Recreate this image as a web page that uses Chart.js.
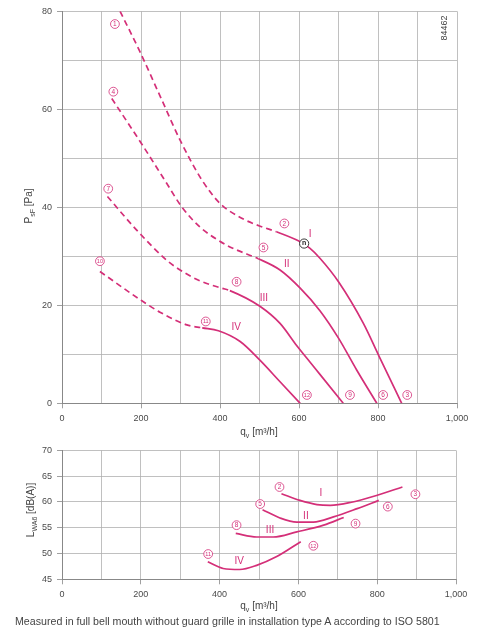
<!DOCTYPE html>
<html>
<head>
<meta charset="utf-8">
<script src="https://cdn.jsdelivr.net/npm/chart.js@4.4.0/dist/chart.umd.min.js"></script>
<style>
  body { margin: 0; background: #fff; width: 497px; height: 639px; overflow: hidden; }
  .box { position: absolute; left: 0; }
  #caption { position: absolute; left: 15px; top: 615px; font: 10.65px 'Liberation Sans', Arial, sans-serif; color: #444; white-space: nowrap; }
</style>
</head>
<body>
<div class="box" style="top:0"><canvas id="pressure" width="497" height="440"></canvas></div>
<div class="box" style="top:440px"><canvas id="noise" width="497" height="180"></canvas></div>
<div id="caption">Measured in full bell mouth without guard grille in installation type A according to ISO 5801</div>
<script>
// static pressure curves (q in m3/h, p in Pa), dashed up to dashEnd
const qI = [147, 197, 250, 299, 354, 400, 459, 500, 543, 602, 628, 653, 700, 763, 801, 860];
const pI = [80, 71.8, 62.4, 53.7, 45.6, 40.8, 37.6, 36.2, 35, 33, 31.6, 29.6, 24.8, 16.3, 9.9, 0];
const qII = [126, 206, 265, 303, 349, 416, 442, 497, 552, 603, 653, 700, 746, 797];
const pII = [62.2, 52.4, 44.9, 40.1, 36.0, 32.3, 31.3, 29.5, 27.2, 23.5, 18.9, 13.3, 6.8, 0];
const qIII = [115, 193, 265, 299, 349, 404, 425, 501, 552, 594, 619, 653, 712];
const pIII = [42.2, 35.0, 29.2, 27.2, 25.0, 23.5, 23.0, 19.8, 16.3, 11.8, 9.3, 5.9, 0];
const qIV = [96, 197, 248, 316, 355, 396, 451, 501, 552, 603];
const pIV = [26.9, 21.2, 18.6, 16.0, 15.4, 14.8, 12.6, 8.8, 4.4, 0];
const dashEnd = [543, 497, 425, 355];
const nominalPoint = [613, 32.6];

// sound power curves (q in m3/h, L in dB(A))
const lqI = [557, 604, 647, 681, 732, 800, 864];
const lI = [61.6, 60.3, 59.5, 59.35, 59.9, 61.3, 62.9];
const lqII = [509, 553, 596, 638, 689, 749, 804];
const lII = [58.5, 56.9, 56.1, 56.1, 57.1, 58.7, 60.3];
const lqIII = [441, 494, 536, 596, 664, 715];
const lIII = [53.9, 53.2, 53.2, 54.2, 55.5, 57.0];
const lqIV = [370, 409, 451, 494, 545, 606];
const lIV = [48.4, 47.1, 46.9, 47.7, 49.4, 52.3];

// curve markers [text, q, value]
const topCircles = [['1', 134, 77.4], ['4', 130, 63.6], ['7', 117, 43.8], ['10', 96, 29.0],
  ['2', 563, 36.7], ['5', 510, 31.8], ['8', 442, 24.8], ['11', 364, 16.7],
  ['12', 620, 1.7], ['9', 729, 1.7], ['6', 813, 1.7], ['3', 874, 1.7]];
const topRoman = [['I', 628, 34.5], ['II', 569, 28.4], ['III', 511, 21.4], ['IV', 441, 15.6]];
const bottomCircles = [['2', 552, 62.9], ['3', 897, 61.5], ['5', 503, 59.6], ['6', 827, 59.1],
  ['8', 443, 55.5], ['9', 745, 55.8], ['11', 371, 49.9], ['12', 638, 51.5]];
const bottomRoman = [['I', 657, 61.6], ['II', 619, 57.3], ['III', 528, 54.5], ['IV', 450, 48.5]];

const PINK = '#d42f78';
const GRID = '#b0b0b0';
const FONT = "'Liberation Sans', Arial, sans-serif";

Chart.defaults.font.family = FONT;
Chart.defaults.animation = false;

function pts(xs, ys) {
  return xs.map((x, i) => ({ x: x, y: ys[i] }));
}

function curve(xs, ys, split) {
  return {
    data: pts(xs, ys),
    borderColor: PINK,
    borderWidth: 1.7,
    pointRadius: 0,
    cubicInterpolationMode: 'monotone',
    segment: {
      borderDash: ctx => (split !== undefined && ctx.p1.parsed.x <= split) ? [6, 4] : undefined
    }
  };
}

function xAxis(height) {
  return {
    type: 'linear', min: 0, max: 1000,
    ticks: {
      stepSize: 100, autoSkip: false, maxRotation: 0, padding: 5, color: '#4a4a4a', font: { size: 9 },
      callback: v => v % 200 === 0 ? v.toLocaleString('en-US') : ''
    },
    grid: {
      color: GRID, lineWidth: 0.8, tickLength: 5,
      tickColor: c => (c.tick && c.tick.value % 200 === 0) ? '#888' : 'rgba(0,0,0,0)'
    },
    border: { color: '#888', width: 1 },
    afterFit: s => { s.height = height; }
  };
}

function yAxis(min, max, step, every) {
  return {
    min: min, max: max,
    ticks: {
      stepSize: step, autoSkip: false, padding: 5, color: '#4a4a4a', font: { size: 9 },
      callback: v => v % every === 0 ? v : ''
    },
    grid: {
      color: GRID, lineWidth: 0.8, tickLength: 5,
      tickColor: c => (c.tick && c.tick.value % every === 0) ? '#888' : 'rgba(0,0,0,0)'
    },
    border: { color: '#888', width: 1 },
    afterFit: s => { s.width = 62; }
  };
}

// text with subscripts: parts = [text, size, baseline shift]
function richText(ctx, parts, cx, cy, rot) {
  ctx.save();
  ctx.translate(cx, cy);
  ctx.rotate(rot);
  let w = 0;
  parts.forEach(p => { ctx.font = p[1] + 'px ' + FONT; w += ctx.measureText(p[0]).width; });
  let x = -w / 2;
  ctx.fillStyle = '#444';
  ctx.textBaseline = 'alphabetic';
  ctx.textAlign = 'left';
  parts.forEach(p => {
    ctx.font = p[1] + 'px ' + FONT;
    ctx.fillText(p[0], x, 3.5 + p[2]);
    x += ctx.measureText(p[0]).width;
  });
  ctx.restore();
}

const marks = {
  id: 'marks',
  afterDatasetsDraw(chart, args, opts) {
    const ctx = chart.ctx;
    const xs = chart.scales.x, ys = chart.scales.y;
    ctx.save();
    ctx.textAlign = 'center';
    ctx.textBaseline = 'middle';
    (opts.circles || []).forEach(([t, q, v]) => {
      const px = xs.getPixelForValue(q), py = ys.getPixelForValue(v);
      ctx.beginPath();
      ctx.arc(px, py, 4.4, 0, Math.PI * 2);
      ctx.fillStyle = '#fff';
      ctx.fill();
      ctx.strokeStyle = PINK;
      ctx.lineWidth = 0.8;
      ctx.stroke();
      ctx.fillStyle = PINK;
      ctx.font = (t.length > 1 ? 5.5 : 6.5) + 'px ' + FONT;
      ctx.fillText(t, px, py + 0.4);
    });
    (opts.roman || []).forEach(([t, q, v]) => {
      ctx.fillStyle = PINK;
      ctx.font = '10px ' + FONT;
      ctx.fillText(t, xs.getPixelForValue(q), ys.getPixelForValue(v));
    });
    if (opts.nominal) {
      const px = xs.getPixelForValue(opts.nominal[0]), py = ys.getPixelForValue(opts.nominal[1]);
      ctx.beginPath();
      ctx.arc(px, py, 4.6, 0, Math.PI * 2);
      ctx.fillStyle = '#fff';
      ctx.fill();
      ctx.strokeStyle = '#222';
      ctx.lineWidth = 0.9;
      ctx.stroke();
      ctx.fillStyle = '#222';
      ctx.font = 'bold 7px ' + FONT;
      ctx.fillText('n', px, py);
    }
    ctx.restore();
  },
  afterDraw(chart, args, opts) {
    const ctx = chart.ctx;
    (opts.titles || []).forEach(t => richText(ctx, t.parts, t.x, t.y, t.rot));
  }
};

new Chart(document.getElementById('pressure'), {
  type: 'line',
  data: {
    datasets: [
      curve(qI, pI, dashEnd[0]),
      curve(qII, pII, dashEnd[1]),
      curve(qIII, pIII, dashEnd[2]),
      curve(qIV, pIV, dashEnd[3])
    ]
  },
  options: {
    responsive: false,
    layout: { padding: { left: 0, right: 40, top: 11.3, bottom: 0 } },
    scales: { x: xAxis(36.7), y: yAxis(0, 80, 10, 20) },
    plugins: {
      legend: { display: false },
      tooltip: { enabled: false },
      marks: {
        circles: topCircles,
        roman: topRoman,
        nominal: nominalPoint,
        titles: [
          { parts: [['P', 10, 0], ['sF', 7, 3], [' [Pa]', 10, 0]], x: 28, y: 206, rot: -Math.PI / 2 },
          { parts: [['q', 10, 0], ['v', 7, 3], [' [m³/h]', 10, 0]], x: 259, y: 431, rot: 0 },
          { parts: [['84462', 9, 0]], x: 443, y: 28, rot: -Math.PI / 2 }
        ]
      }
    }
  },
  plugins: [marks]
});

new Chart(document.getElementById('noise'), {
  type: 'line',
  data: {
    datasets: [
      curve(lqI, lI),
      curve(lqII, lII),
      curve(lqIII, lIII),
      curve(lqIV, lIV)
    ]
  },
  options: {
    responsive: false,
    layout: { padding: { left: 0, right: 41, top: 7.7, bottom: 0 } },
    scales: { x: xAxis(40.7), y: yAxis(45, 70, 5, 5) },
    plugins: {
      legend: { display: false },
      tooltip: { enabled: false },
      marks: {
        circles: bottomCircles,
        roman: bottomRoman,
        titles: [
          { parts: [['L', 10, 0], ['WA6', 7, 3], [' [dB(A)]', 10, 0]], x: 30, y: 70, rot: -Math.PI / 2 },
          { parts: [['q', 10, 0], ['v', 7, 3], [' [m³/h]', 10, 0]], x: 259, y: 165, rot: 0 }
        ]
      }
    }
  },
  plugins: [marks]
});
</script>
</body>
</html>
